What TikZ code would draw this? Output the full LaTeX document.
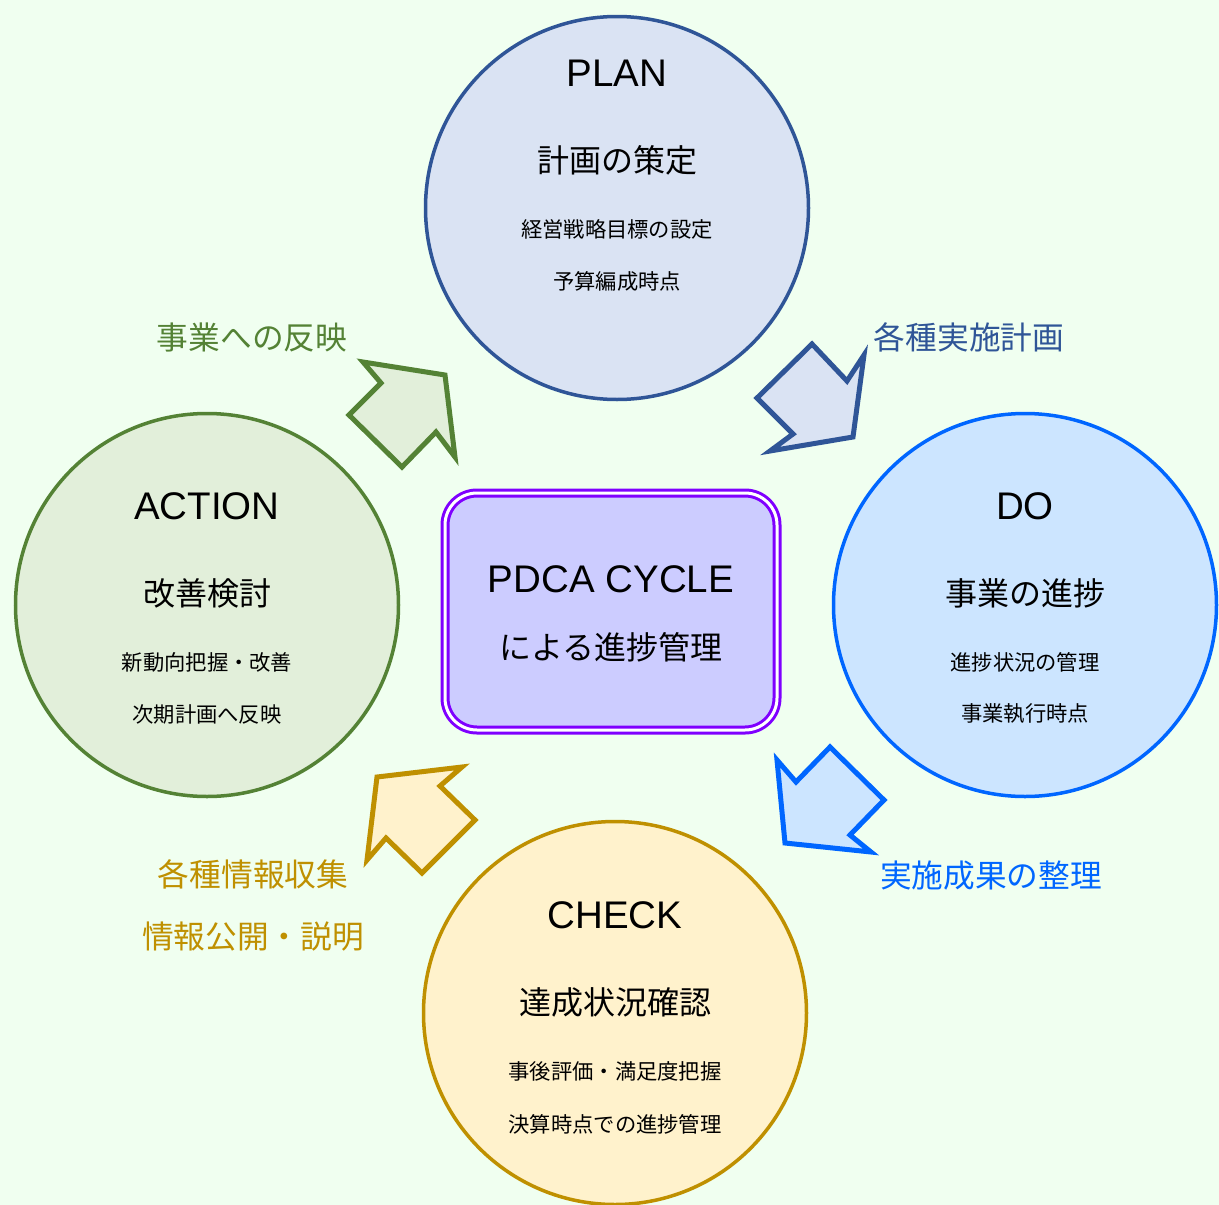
\documentclass[tikz,border=0pt]{standalone}
\usepackage{fontspec}
\setmainfont{Liberation Sans}
\newfontfamily\jp{Noto Sans CJK JP}
\definecolor{bgc}{HTML}{F0FFF0}
\definecolor{planF}{HTML}{DAE3F3}\definecolor{planD}{HTML}{2F5597}
\definecolor{doF}{HTML}{CCE5FF}\definecolor{doD}{HTML}{0066FF}
\definecolor{actF}{HTML}{E2EFDA}\definecolor{actD}{HTML}{548235}
\definecolor{chkF}{HTML}{FFF2CC}\definecolor{chkD}{HTML}{BF9000}
\definecolor{cenF}{HTML}{CCCCFF}\definecolor{cenD}{HTML}{7F00FF}
\begin{document}
\begin{tikzpicture}[x=1pt,y=-1pt,
  phase/.style={circle,line width=3.5pt,minimum size=383pt,inner sep=0pt},
  ttl/.style={font=\fontsize{38.5}{40}\selectfont,text=black},
  mid/.style={font=\jp\fontsize{32}{34}\selectfont,text=black},
  sml/.style={font=\jp\fontsize{21.3}{24}\selectfont,text=black},
  lbl/.style={font=\jp\fontsize{31.7}{34}\selectfont},
  blk/.style={line width=5pt,line join=miter}]
\fill[bgc] (0,0) rectangle (1219,1205);
\useasboundingbox (0,0) rectangle (1219,1205);
% circles
\node[phase,draw=planD,fill=planF] (plan) at (617,208) {};
\node[phase,draw=doD,fill=doF] (do) at (1025,605) {};
\node[phase,draw=actD,fill=actF] (act) at (207,605) {};
\node[phase,draw=chkD,fill=chkF] (chk) at (615,1013) {};
% center
\node[draw=cenD,line width=3pt,double=white,double distance=3pt,fill=cenF,
  rounded corners=32pt,minimum width=332pt,minimum height=237pt] (cen) at (611,611.5) {};
\node[ttl] (cenA) at (611,579) {PDCA CYCLE};
\node[mid] (cenB) at (611,647) {による進捗管理};
% PLAN text
\node[ttl] (planT) at (617,73) {PLAN};
\node[mid] (planM) at (617,160) {計画の策定};
\node[sml] (planS1) at (617,229) {経営戦略目標の設定};
\node[sml] (planS2) at (617,281) {予算編成時点};
% DO text
\node[ttl] (doT) at (1025,506) {DO};
\node[mid] (doM) at (1025,593) {事業の進捗};
\node[sml] (doS1) at (1025,662) {進捗状況の管理};
\node[sml] (doS2) at (1025,714) {事業執行時点};
% ACTION text
\node[ttl] (actT) at (207,506) {ACTION};
\node[mid] (actM) at (207,593) {改善検討};
\node[sml] (actS1) at (207,662) {新動向把握・改善};
\node[sml] (actS2) at (207,714) {次期計画へ反映};
% CHECK text
\node[ttl] (chkT) at (615,915) {CHECK};
\node[mid] (chkM) at (615,1002) {達成状況確認};
\node[sml] (chkS1) at (615,1071) {事後評価・満足度把握};
\node[sml] (chkS2) at (615,1124) {決算時点での進捗管理};
% block arrows
\draw[blk,draw=planD,fill=planF] (853,437) -- (864,355) -- (847,381) -- (812,344) -- (757,398) -- (793,434) -- (770,451) -- cycle;
\draw[blk,draw=actD,fill=actF] (445,375) -- (363,362) -- (381,383) -- (349,415) -- (402,467) -- (436,432) -- (455,457) -- cycle;
\draw[blk,draw=chkD,fill=chkF] (377,777) -- (462,767) -- (440,786) -- (475,820) -- (422,873) -- (386,838) -- (367,860) -- cycle;
\draw[blk,draw=doD,fill=doF] (785,843) -- (777,760) -- (796,782) -- (830,747) -- (884,800) -- (850,835) -- (871,852) -- cycle;
% labels
\node[lbl,text=actD] (l1) at (252,337) {事業への反映};
\node[lbl,text=planD] (l2) at (969,337) {各種実施計画};
\node[lbl,text=doD] (l3) at (991,876) {実施成果の整理};
\node[lbl,text=chkD] (l4) at (253,874) {各種情報収集};
\node[lbl,text=chkD] (l5) at (253,937) {情報公開・説明};
\end{tikzpicture}
\end{document}
